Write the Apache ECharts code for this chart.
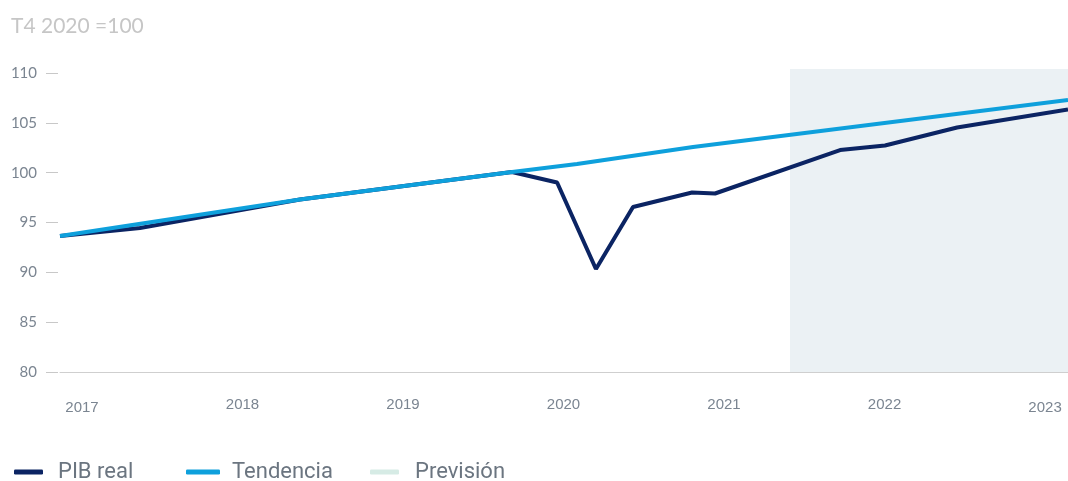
<!DOCTYPE html>
<html>
<head>
<meta charset="utf-8">
<script src="https://cdn.jsdelivr.net/npm/echarts@6/dist/echarts.min.js"></script>
<style>
html,body{margin:0;padding:0;background:#fff;}
#c{width:1068px;height:481px;}
</style>
</head>
<body>
<div id="c"></div>
<script>
// Time positions (in years) and values
const pibTime   = [2016.863, 2017.361, 2018.358, 2019.679, 2019.960, 2020.202, 2020.433, 2020.801, 2020.944, 2021.723, 2022.003, 2022.452, 2023.143];
const pibValues = [93.65, 94.45, 97.31, 100.07, 99.01, 90.33, 96.56, 98.01, 97.91, 102.27, 102.73, 104.53, 106.33];
const trendTime   = [2016.863, 2018.358, 2019.679, 2020.084, 2020.807, 2023.143];
const trendValues = [93.65, 97.31, 100.07, 100.87, 102.58, 107.29];
const forecastStart = 2021.411;
const xMin = 2016.863, xMax = 2023.143;
const yearLabels = [2017, 2018, 2019, 2020, 2021, 2022, 2023];
const yLabels = [80, 85, 90, 95, 100, 105, 110];
const yMin = 80, yMax = 110.4;

const zip = (a, b) => a.map((x, i) => [x, b[i]]);

const chart = echarts.init(document.getElementById('c'));
const mkLegend = (name, left, w, gap) => ({
  data: [name], left: left, top: 461, padding: 0,
  icon: 'roundRect', itemWidth: w, itemHeight: 5,
  textStyle: {color: '#6b7580', fontSize: 22, fontFamily: 'Roboto', padding: [0, 0, 0, gap]},
  selectedMode: false
});
chart.setOption({
  animation: false,
  title: {
    text: 'T4 2020 =100', left: 11, top: 16, padding: 0,
    textStyle: {color: '#c6c6c6', fontSize: 21, fontWeight: 'normal', fontFamily: 'Lato'}
  },
  legend: [mkLegend('PIB real', 14, 29, 10), mkLegend('Tendencia', 186, 34, 7), mkLegend('Previsión', 370, 29, 11)],
  grid: {left: 60, right: 0, top: 69, bottom: 109, containLabel: false},
  xAxis: {
    type: 'value', min: xMin, max: xMax,
    axisLine: {show: true, lineStyle: {color: '#cfcfcf', width: 1}},
    axisTick: {show: false},
    splitLine: {show: false},
    axisLabel: {
      customValues: yearLabels, margin: 25,
      formatter: v => {
        const y = Math.round(v);
        return (y === 2017 || y === 2023) ? '{e|' + y + '}' : String(y);
      },
      rich: {e: {padding: [3, 0, 0, 0], color: '#7b8591', fontSize: 15, fontFamily: 'Liberation Sans'}},
      color: '#7b8591', fontSize: 15, fontFamily: 'Liberation Sans'
    }
  },
  yAxis: {
    type: 'value', min: yMin, max: yMax, offset: 2,
    axisLine: {show: false},
    axisTick: {show: true, customValues: yLabels, length: 12, lineStyle: {color: '#c8c8c8'}},
    splitLine: {show: false},
    axisLabel: {customValues: yLabels, margin: 21, color: '#7b8591', fontSize: 15, fontFamily: 'Lato'}
  },
  series: [
    {
      name: 'Previsión', type: 'line', data: [], color: '#d6ebe5', silent: true, z: 1,
      markArea: {
        silent: true,
        itemStyle: {color: '#ebf1f4'},
        data: [[{xAxis: forecastStart, yAxis: yMin}, {xAxis: xMax, yAxis: yMax}]]
      }
    },
    {
      name: 'PIB real', type: 'line', data: zip(pibTime, pibValues), color: '#0b2463',
      showSymbol: false, lineStyle: {width: 4, color: '#0b2463'}, z: 2
    },
    {
      name: 'Tendencia', type: 'line', data: zip(trendTime, trendValues), color: '#0ea0dc',
      showSymbol: false, lineStyle: {width: 4, color: '#0ea0dc'}, z: 3
    }
  ]
});
</script>
</body>
</html>
